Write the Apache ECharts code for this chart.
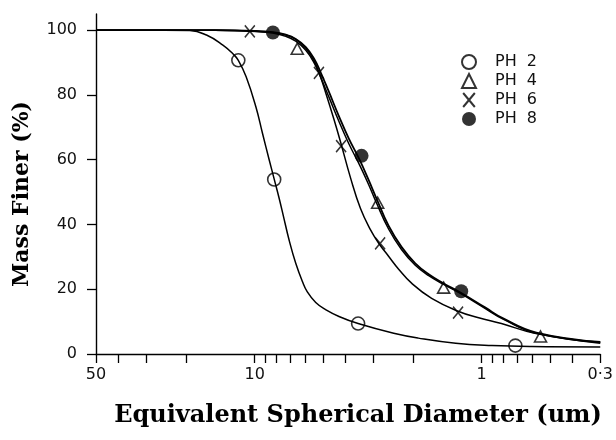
<!DOCTYPE html>
<html>
<head>
<meta charset="utf-8">
<script src="https://cdn.jsdelivr.net/npm/echarts@6/dist/echarts.min.js"></script>
<style>html,body{margin:0;padding:0;background:#fff}#c{width:616px;height:440px}</style>
</head>
<body>
<div id="c"></div>
<script>
// ---- data (diameter in um, mass finer in %) ----
var seriesNames = ['PH 2', 'PH 4', 'PH 6', 'PH 8'];

var ph2PtsD = [11.8, 8.2, 3.5, 0.71];
var ph2PtsP = [90.7, 53.9, 9.4, 2.6];
var ph4PtsD = [6.49, 2.87, 1.47, 0.55];
var ph4PtsP = [94.3, 46.7, 20.5, 5.4];
var ph6PtsD = [10.5, 5.21, 4.16, 2.8, 1.27];
var ph6PtsP = [99.6, 86.8, 64.2, 34.2, 12.8];
var ph8PtsD = [8.31, 3.38, 1.23];
var ph8PtsP = [99.3, 61.2, 19.4];

var ph2CurveD = [50, 25, 19.3, 16.3, 13.8, 12.5, 11.8, 10.9, 9.87, 9.23, 8.63, 8.2, 7.8, 7.47, 7.05, 6.59, 6.16, 5.86, 5.38, 4.87, 4.25, 3.5, 2.44, 1.9, 1.3, 0.9, 0.6, 0.3];
var ph2CurveP = [100, 100, 99.9, 98.5, 95.4, 92.8, 90.7, 85.6, 76.3, 68.1, 60.0, 54.0, 48.1, 42.6, 35.2, 28.0, 22.4, 19.2, 15.9, 13.7, 11.6, 9.4, 6.4, 4.9, 3.3, 2.6, 2.3, 2.2];

var ph6CurveD = [50, 15, 10.5, 8.3, 7.29, 6.59, 5.95, 5.5, 5.21, 4.86, 4.47, 4.18, 3.78, 3.42, 3.09, 2.84, 2.57, 2.32, 2.03, 1.66, 1.27, 1.03, 0.818, 0.583, 0.3];
var ph6CurveP = [100, 100, 99.7, 99.3, 98.5, 97.2, 94.4, 90.8, 87.0, 80.6, 72.4, 65.4, 54.4, 45.0, 38.4, 34.2, 30.2, 26.2, 21.8, 17.2, 13.2, 11.2, 9.4, 6.4, 3.3];

var ph8CurveD = [50, 15, 10, 8.31, 7.29, 6.59, 5.95, 5.47, 5.12, 4.71, 4.25, 3.85, 3.45, 3.14, 2.92, 2.57, 2.25, 1.96, 1.71, 1.47, 1.24, 0.966, 0.804, 0.574, 0.3];
var ph8CurveP = [100, 100, 99.8, 99.4, 98.6, 97.3, 94.8, 91.2, 87.0, 81.0, 73.4, 66.6, 60.0, 53.6, 48.4, 39.6, 33.0, 28.0, 24.6, 21.8, 19.0, 14.4, 11.0, 6.6, 3.7];
var ph4CurveP = [100, 100, 99.7, 99.1, 98.1, 96.6, 93.8, 89.9, 85.5, 79.4, 71.8, 65.0, 58.4, 52.2, 47.0, 38.6, 32.2, 27.4, 24.2, 21.5, 18.7, 14.1, 10.8, 6.4, 3.6];

var xTickValues = [50, 40, 30, 20, 10, 9, 8, 7, 6, 5, 4, 3, 2, 1, 0.9, 0.8, 0.7, 0.6, 0.5, 0.4, 0.3];
var xLabelValues = [50, 10, 1, 0.3];
var yTickValues = [0, 20, 40, 60, 80, 100];

var xTitle = 'Equivalent Spherical Diameter (um)';
var yTitle = 'Mass Finer (%)';

function pairs(xs, ys) { return xs.map(function (x, i) { return [x, ys[i]]; }); }

function curve(name, xs, ys, w) {
  return { type: 'line', name: name + ' curve', data: pairs(xs, ys), smooth: 0.45,
    showSymbol: false, symbol: 'none', lineStyle: { color: '#000', width: w }, z: 2, silent: true };
}
var mk = { color: 'transparent', borderColor: '#000', borderWidth: 1.6 };

var chart = echarts.init(document.getElementById('c'), null, { renderer: 'canvas' });
chart.setOption({
  animation: false,
  backgroundColor: '#fff',
  grid: { left: 96, right: 13, top: 14, bottom: 86, containLabel: false },
  legend: {
    orient: 'vertical', left: 456, top: 49, itemWidth: 14, itemHeight: 14, itemGap: 3,
    data: seriesNames,
    formatter: function (n) { return n.replace(' ', '  '); },
    textStyle: { fontFamily: 'DejaVu Sans', fontSize: 16, color: '#111', padding: [0, 0, 0, 14], lineHeight: 14 }
  },
  xAxis: {
    type: 'log', logBase: 10, min: 0.3, max: 50, inverse: true,
    axisLine: { onZero: false, lineStyle: { color: '#000', width: 1.4 } },
    axisTick: { show: true, length: 9, lineStyle: { color: '#000', width: 1.3 }, customValues: xTickValues },
    axisLabel: { customValues: xLabelValues, margin: 13, fontFamily: 'DejaVu Sans', fontSize: 16, color: '#111',
      formatter: function (v) { return Math.abs(v - 0.3) < 1e-6 ? '0·3' : String(Math.round(v)); } },
    splitLine: { show: false }, minorTick: { show: false }
  },
  yAxis: {
    type: 'value', min: 0, max: 105,
    axisLine: { show: true, onZero: false, lineStyle: { color: '#000', width: 1.4 } },
    axisTick: { show: true, length: 9, lineStyle: { color: '#000', width: 1.3 }, customValues: yTickValues },
    axisLabel: { customValues: yTickValues, margin: 19, fontFamily: 'DejaVu Sans', fontSize: 16, color: '#111' },
    splitLine: { show: false }
  },
  graphic: [
    { type: 'text', x: 358, y: 416, silent: true,
      style: { text: xTitle, font: 'bold 24px "DejaVu Serif"', fill: '#000', textAlign: 'center', textVerticalAlign: 'middle' } },
    { type: 'text', x: 22, y: 194, rotation: Math.PI / 2, silent: true,
      style: { text: yTitle, font: 'bold 22px "DejaVu Serif"', fill: '#000', textAlign: 'center', textVerticalAlign: 'middle' } }
  ],
  series: [
    curve('PH 2', ph2CurveD, ph2CurveP, 1.5),
    curve('PH 6', ph6CurveD, ph6CurveP, 1.5),
    curve('PH 4', ph8CurveD, ph4CurveP, 1.5),
    curve('PH 8', ph8CurveD, ph8CurveP, 1.8),
    { type: 'scatter', name: 'PH 2', data: pairs(ph2PtsD, ph2PtsP), symbol: 'circle', symbolSize: 13, itemStyle: mk, z: 5 },
    { type: 'scatter', name: 'PH 4', data: pairs(ph4PtsD, ph4PtsP), symbol: 'triangle', symbolSize: [12, 11], itemStyle: mk, z: 5 },
    { type: 'scatter', name: 'PH 6', data: pairs(ph6PtsD, ph6PtsP), symbol: 'path://M0,0L10,12M10,0L0,12', symbolSize: [10, 12], itemStyle: mk, z: 5 },
    { type: 'scatter', name: 'PH 8', data: pairs(ph8PtsD, ph8PtsP), symbol: 'circle', symbolSize: 14, itemStyle: { color: '#000' }, z: 5 }
  ]
});
</script>
</body>
</html>
